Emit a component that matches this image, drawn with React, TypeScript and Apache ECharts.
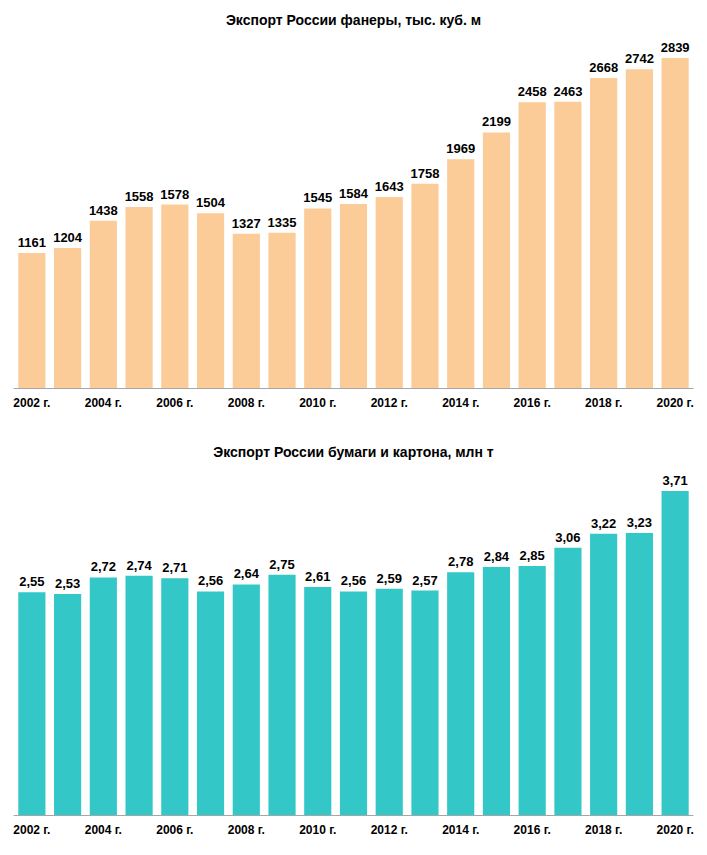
import { useEffect, useRef } from "react";
import * as echarts from "echarts";

const years = ["2002", "2003", "2004", "2005", "2006", "2007", "2008", "2009", "2010", "2011", "2012", "2013", "2014", "2015", "2016", "2017", "2018", "2019", "2020"];
const plywood = [1161, 1204, 1438, 1558, 1578, 1504, 1327, 1335, 1545, 1584, 1643, 1758, 1969, 2199, 2458, 2463, 2668, 2742, 2839];
const paper = [2.55, 2.53, 2.72, 2.74, 2.71, 2.56, 2.64, 2.75, 2.61, 2.56, 2.59, 2.57, 2.78, 2.84, 2.85, 3.06, 3.22, 3.23, 3.71];

const FONT = "Liberation Sans, Arial, sans-serif";

function xAxis(gridIndex: number) {
  return {
    type: "category" as const,
    gridIndex,
    data: years,
    axisLine: { lineStyle: { color: "#a6a6a6" } },
    axisTick: { show: false },
    axisLabel: {
      interval: 1,
      color: "#000",
      fontWeight: "bold" as const,
      fontSize: 12,
      fontFamily: FONT,
      margin: 9,
      formatter: (v: string) => `${v} г.`,
    },
  };
}

export default function App() {
  const ref = useRef<HTMLDivElement>(null);

  useEffect(() => {
    document.body.style.margin = "0";
    const el = ref.current;
    if (!el) return;
    const chart = echarts.init(el, null, { renderer: "svg" });
    const label = {
      show: true,
      position: "top" as const,
      color: "#000",
      fontWeight: "bold" as const,
      fontSize: 13,
      fontFamily: FONT,
      distance: 4,
    };
    chart.setOption({
      animation: false,
      backgroundColor: "#fff",
      title: [
        { text: "Экспорт России фанеры, тыс. куб. м", left: "center", top: 8, textStyle: { fontSize: 14, fontWeight: "bold", fontFamily: FONT, color: "#000" } },
        { text: "Экспорт России бумаги и картона, млн т", left: "center", top: 440, textStyle: { fontSize: 14, fontWeight: "bold", fontFamily: FONT, color: "#000" } },
      ],
      grid: [
        { left: 14, right: 14, top: 58, height: 330 },
        { left: 14, right: 14, top: 491, height: 324 },
      ],
      xAxis: [xAxis(0), xAxis(1)],
      yAxis: [
        { type: "value", gridIndex: 0, min: 0, max: 2839, show: false },
        { type: "value", gridIndex: 1, min: 0, max: 3.71, show: false },
      ],
      series: [
        {
          type: "bar", xAxisIndex: 0, yAxisIndex: 0, data: plywood, barCategoryGap: "24%",
          itemStyle: { color: "#fbcb98" }, label,
        },
        {
          type: "bar", xAxisIndex: 1, yAxisIndex: 1, data: paper, barCategoryGap: "24%",
          itemStyle: { color: "#33c7c7" },
          label: { ...label, formatter: (p: { value: number }) => p.value.toFixed(2).replace(".", ",") },
        },
      ],
    });
    return () => chart.dispose();
  }, []);

  return <div ref={ref} style={{ width: 707, height: 855 }} />;
}
